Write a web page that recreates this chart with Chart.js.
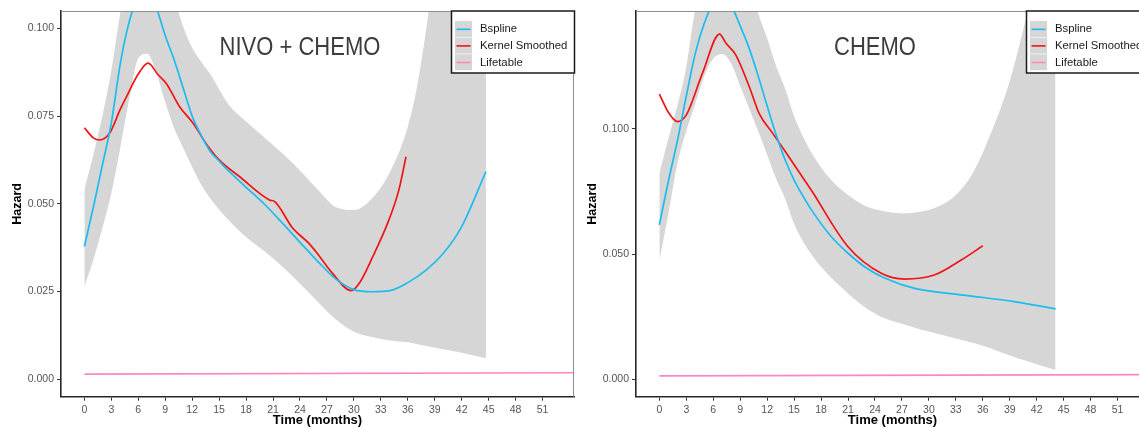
<!DOCTYPE html>
<html>
<head>
<meta charset="utf-8">
<script src="https://cdn.jsdelivr.net/npm/chart.js@4.4.1/dist/chart.umd.min.js"></script>
<style>
  html, body { margin: 0; padding: 0; background: #fff; overflow: hidden; }
  body { width: 1139px; height: 427px; position: relative; }
  .panel { position: absolute; top: 0; width: 590px; height: 427px; }
  #p1 { left: 0; }
  #p2 { left: 575px; }
</style>
</head>
<body>
<div class="panel" id="p1"><canvas id="chartNivo" width="590" height="427"></canvas></div>
<div class="panel" id="p2"><canvas id="chartChemo" width="590" height="427"></canvas></div>
<script>
// --- Chung ---
const xTicks = [0, 3, 6, 9, 12, 15, 18, 21, 24, 27, 30, 33, 36, 39, 42, 45, 48, 51];
const seriesNames = ['Bspline', 'Kernel Smoothed', 'Lifetable'];
const seriesColors = ['#1cbcf0', '#f01414', '#ff86c4'];
const bandColor = '#d6d6d6';

// --- PANEL 1: NIVO + CHEMO ---
const nivoYTicks = [0, 0.025, 0.05, 0.075, 0.1];
const nivoBsplineT = [0, 1, 2, 3, 4, 5, 6, 7, 8, 9, 10, 11, 12, 13, 14, 15, 16, 18, 20, 22, 24, 26, 28, 30, 32, 34, 36, 38, 40, 42, 44.7];
const nivoBspline  = [0.0378, 0.049, 0.061, 0.073, 0.090, 0.102, 0.109, 0.111, 0.106, 0.098, 0.091, 0.083, 0.075, 0.0695, 0.065, 0.0622, 0.0595, 0.0547, 0.050, 0.0446, 0.039, 0.0335, 0.0285, 0.0255, 0.0249, 0.0252, 0.0275, 0.031, 0.036, 0.0435, 0.0592];
const nivoKernelT = [0, 1, 1.7, 2.8, 4, 4.7, 6, 7.1, 8.2, 9.1, 10.6, 12.1, 13.6, 15, 17.3, 20.6, 21.2, 23.2, 25, 26.2, 27.6, 29.7, 30.6, 32.1, 33.9, 35, 35.8];
const nivoKernel  = [0.0717, 0.0688, 0.0682, 0.0701, 0.077, 0.0806, 0.087, 0.0901, 0.0868, 0.0844, 0.0777, 0.073, 0.067, 0.0625, 0.0577, 0.0511, 0.0506, 0.043, 0.0387, 0.0349, 0.0302, 0.0252, 0.0273, 0.0349, 0.0454, 0.0539, 0.0634];
const nivoBandT     = [0, 1, 2, 3, 4, 5, 6, 7, 8, 9, 10, 11, 12, 13, 14, 16, 18, 20, 22, 24, 26, 28, 30, 32, 34, 36, 37, 38, 39, 40, 42, 44.7];
const nivoBandUpper = [0.054, 0.064, 0.075, 0.088, 0.1045, 0.118, 0.126, 0.128, 0.125, 0.118, 0.109, 0.1005, 0.0945, 0.0905, 0.0870, 0.0785, 0.0735, 0.069, 0.0645, 0.0595, 0.054, 0.049, 0.0482, 0.0515, 0.059, 0.072, 0.083, 0.099, 0.118, 0.14, 0.165, 0.2];
const nivoBandLower = [0.0263, 0.034, 0.043, 0.053, 0.066, 0.080, 0.0915, 0.0928, 0.0875, 0.079, 0.0715, 0.066, 0.0605, 0.0555, 0.0516, 0.0455, 0.0405, 0.0365, 0.0322, 0.0272, 0.022, 0.017, 0.0135, 0.012, 0.011, 0.0105, 0.010, 0.0095, 0.009, 0.0085, 0.0075, 0.0059];
const nivoLifeT = [0, 57];
const nivoLife  = [0.0014, 0.0018];

// --- PANEL 2: CHEMO ---
const chemoYTicks = [0, 0.05, 0.1];
const chemoBsplineT = [0, 1, 2, 3, 4, 5, 6, 7, 8, 9, 10, 11, 12, 13, 14, 15, 16, 17, 19, 21, 23, 25, 28.4, 33.9, 39.5, 44.1];
const chemoBspline  = [0.0616, 0.079, 0.095, 0.113, 0.130, 0.142, 0.150, 0.153, 0.149, 0.141, 0.132, 0.121, 0.109, 0.0975, 0.0875, 0.0795, 0.073, 0.0672, 0.0575, 0.0503, 0.0445, 0.0405, 0.0363, 0.0336, 0.031, 0.0281];
const chemoKernelT = [0, 1, 2, 3, 4.8, 6.7, 7.4, 8.5, 10, 11.1, 12.6, 13.9, 16.9, 21, 24.7, 27.3, 30.6, 33.6, 36];
const chemoKernel  = [0.1138, 0.1065, 0.1028, 0.1055, 0.1221, 0.1377, 0.1341, 0.1294, 0.1168, 0.1061, 0.0982, 0.0915, 0.0755, 0.0529, 0.0423, 0.040, 0.0416, 0.0476, 0.0533];
const chemoBandT     = [0, 1, 2, 3, 4, 5, 6, 7, 8, 9, 10, 11, 12, 13, 14, 15, 17, 19, 21, 23, 25, 27, 29, 31, 33, 35, 37, 39, 41, 44.1];
const chemoBandUpper = [0.0822, 0.096, 0.109, 0.1247, 0.148, 0.165, 0.175, 0.178, 0.175, 0.168, 0.158, 0.146, 0.136, 0.125, 0.116, 0.105, 0.090, 0.080, 0.0735, 0.069, 0.067, 0.0662, 0.0668, 0.0688, 0.0735, 0.083, 0.099, 0.119, 0.147, 0.2];
const chemoBandLower = [0.0475, 0.066, 0.086, 0.099, 0.110, 0.121, 0.128, 0.1298, 0.126, 0.117, 0.108, 0.099, 0.0895, 0.080, 0.072, 0.062, 0.0495, 0.041, 0.0343, 0.0285, 0.0245, 0.0222, 0.020, 0.0182, 0.0163, 0.0145, 0.0122, 0.0095, 0.0072, 0.0037];
const chemoLifeT = [0, 57];
const chemoLife  = [0.0014, 0.0019];

// ghép mảng t và giá trị thành điểm {x, y}
const pts = (ts, vs) => ts.map((t, i) => ({ x: t, y: vs[i] }));

// Khung trên/phải, tiêu đề panel và chú thích kiểu ggplot
const panelDecor = {
    id: 'panelDecor',
    afterDraw(chart, args, opts) {
        const { ctx, chartArea: a, scales } = chart;
        ctx.save();
        ctx.strokeStyle = '#8f8f8f';
        ctx.lineWidth = 1;
        ctx.beginPath();
        ctx.moveTo(a.left, a.top + 0.5);
        ctx.lineTo(a.right - 0.5, a.top + 0.5);
        ctx.lineTo(a.right - 0.5, a.bottom);
        ctx.stroke();

        // tiêu đề đặt theo toạ độ dữ liệu, chữ hơi hẹp như bản gốc
        ctx.save();
        ctx.translate(scales.x.getPixelForValue(opts.titleAt[0]), scales.y.getPixelForValue(opts.titleAt[1]));
        ctx.scale(0.88, 1);
        ctx.fillStyle = '#3c3c3c';
        ctx.font = '25px "Liberation Sans", Arial, sans-serif';
        ctx.textAlign = 'center';
        ctx.textBaseline = 'middle';
        ctx.fillText(opts.title, 0, 0);
        ctx.restore();

        // legend
        const w = 123, h = 62, rowH = 16.6;
        const bx = a.right - w + 0.5, by = a.top;
        ctx.fillStyle = '#fff';
        ctx.fillRect(bx, by, w, h);
        ctx.font = '11.3px "Liberation Sans", Arial, sans-serif';
        ctx.textAlign = 'left';
        ctx.textBaseline = 'middle';
        seriesNames.forEach((name, i) => {
            const ky = by + 10 + i * rowH;
            ctx.fillStyle = bandColor;
            ctx.fillRect(bx + 3.5, ky, 17, rowH - 0.6);
            ctx.strokeStyle = seriesColors[i];
            ctx.lineWidth = 1.6;
            ctx.beginPath();
            ctx.moveTo(bx + 5, ky + rowH / 2);
            ctx.lineTo(bx + 19, ky + rowH / 2);
            ctx.stroke();
            ctx.fillStyle = '#1a1a1a';
            ctx.fillText(name, bx + 28.5, ky + rowH / 2);
        });
        ctx.strokeStyle = '#1a1a1a';
        ctx.lineWidth = 1.5;
        ctx.strokeRect(bx, by, w, h);
        ctx.restore();
    }
};

function makePanel(canvasId, title, d) {
    const line = (i, data) => ({
        label: seriesNames[i],
        data: data,
        borderColor: seriesColors[i],
        borderWidth: 1.7,
        pointRadius: 0,
        fill: false,
        cubicInterpolationMode: 'monotone',
        clip: 0
    });

    new Chart(document.getElementById(canvasId), {
        type: 'line',
        data: {
            datasets: [
                line(0, pts(d.bsT, d.bs)),
                line(1, pts(d.kT, d.k)),
                line(2, pts(d.lifeT, d.life)),
                {
                    label: 'upper',
                    data: pts(d.bandT, d.upper),
                    borderWidth: 0,
                    borderColor: 'transparent',
                    backgroundColor: bandColor,
                    pointRadius: 0,
                    fill: '+1',
                    cubicInterpolationMode: 'monotone',
                    clip: 0
                },
                {
                    label: 'lower',
                    data: pts(d.bandT, d.lower),
                    borderWidth: 0,
                    borderColor: 'transparent',
                    pointRadius: 0,
                    fill: false,
                    cubicInterpolationMode: 'monotone',
                    clip: 0
                }
            ]
        },
        options: {
            responsive: false,
            animation: false,
            layout: { padding: { top: 11, right: 16, left: 0, bottom: 0 } },
            plugins: {
                legend: { display: false },
                tooltip: { enabled: false },
                panelDecor: { title: title, titleAt: d.titleAt }
            },
            scales: {
                x: {
                    type: 'linear',
                    min: -2.6,
                    max: 54.5,
                    afterBuildTicks: s => { s.ticks = xTicks.map(v => ({ value: v })); },
                    afterFit: s => { s.height = 30.3; },
                    grid: { drawOnChartArea: false, drawTicks: true, tickLength: 4, color: '#333' },
                    border: { display: true, color: '#262626', width: 1.6 },
                    ticks: { color: '#555', padding: 3, font: { size: 10.5, family: '"Liberation Sans", Arial' }, maxRotation: 0 },
                    title: {
                        display: true, text: 'Time (months)', color: '#000',
                        font: { size: 13, weight: 'bold', family: '"Liberation Sans", Arial', lineHeight: 1 },
                        padding: { top: 0, bottom: 0 }
                    }
                },
                y: {
                    min: d.yMin,
                    max: d.yMax,
                    afterBuildTicks: s => { s.ticks = d.yTicks.map(v => ({ value: v })); },
                    afterFit: s => { s.width = 61; },
                    grid: { drawOnChartArea: false, drawTicks: true, tickLength: 4, color: '#333' },
                    border: { display: true, color: '#262626', width: 1.6 },
                    ticks: { color: '#555', padding: 3, font: { size: 10.5, family: '"Liberation Sans", Arial' }, callback: v => v.toFixed(3) },
                    title: {
                        display: true, text: 'Hazard', color: '#000',
                        font: { size: 12.5, weight: 'bold', family: '"Liberation Sans", Arial' },
                        padding: { top: 10, bottom: 0 }
                    }
                }
            }
        },
        plugins: [panelDecor]
    });
}

makePanel('chartNivo', 'NIVO + CHEMO', {
    bsT: nivoBsplineT, bs: nivoBspline, kT: nivoKernelT, k: nivoKernel,
    bandT: nivoBandT, upper: nivoBandUpper, lower: nivoBandLower,
    lifeT: nivoLifeT, life: nivoLife, yTicks: nivoYTicks,
    yMin: -0.00505, yMax: 0.105, titleAt: [24, 0.0945]
});

makePanel('chartChemo', 'CHEMO', {
    bsT: chemoBsplineT, bs: chemoBspline, kT: chemoKernelT, k: chemoKernel,
    bandT: chemoBandT, upper: chemoBandUpper, lower: chemoBandLower,
    lifeT: chemoLifeT, life: chemoLife, yTicks: chemoYTicks,
    yMin: -0.0069, yMax: 0.1469, titleAt: [24, 0.1322]
});
</script>
</body>
</html>
